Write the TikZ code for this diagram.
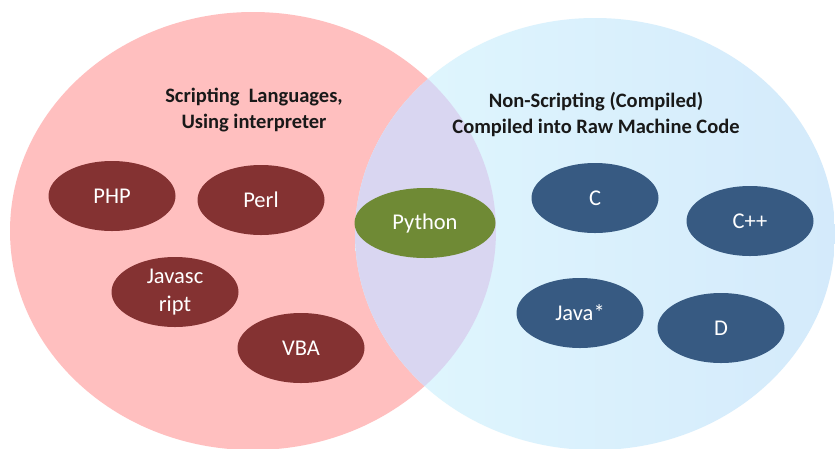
\documentclass[tikz,border=0pt]{standalone}
\usepackage{fontspec}
\setmainfont{Carlito}
\usetikzlibrary{shapes.geometric}
\definecolor{scriptpink}{HTML}{FFBFBF}
\definecolor{compblueL}{HTML}{E0F7FE}
\definecolor{compblueR}{HTML}{D4EAFB}
\definecolor{overlapviolet}{HTML}{D9D6F1}
\definecolor{lang red}{HTML}{843232}
\definecolor{lang blue}{HTML}{375A82}
\definecolor{lang green}{HTML}{6F8A35}
\tikzset{
  lang/.style={ellipse, inner sep=0pt, minimum width=127pt, minimum height=70pt,
    text=white, font=\fontsize{22.5}{28}\selectfont, align=center},
  scriptlang/.style={lang, fill=lang red},
  complang/.style={lang, fill=lang blue},
  bothlang/.style={lang, fill=lang green, minimum width=141pt, minimum height=70pt},
  heading/.style={font=\bfseries\fontsize{20.5}{26}\selectfont, align=center, text=black!90}
}
\begin{document}
\begin{tikzpicture}[x=1pt,y=-1pt]
  \useasboundingbox (0,0) rectangle (835,448);
  \fill[white] (0,0) rectangle (835,448);
  \begin{scope}
    \clip (0,0) rectangle (835,448);
    % the two sets
    \fill[scriptpink] (253,231) ellipse [x radius=243, y radius=219];
    \shade[left color=compblueL, right color=compblueR] (595,234) ellipse [x radius=240, y radius=216];
    % their intersection
    \begin{scope}
      \clip (253,231) ellipse [x radius=243, y radius=219];
      \fill[overlapviolet] (595,234) ellipse [x radius=240, y radius=216];
    \end{scope}
  \end{scope}

  % set titles
  \node[heading] (scripthead) at (254,110) {Scripting~~Languages,\\Using interpreter};
  \node[heading] (comphead) at (596,114) {Non-Scripting (Compiled)\\Compiled into Raw Machine Code};

  % scripting languages
  \node[scriptlang] (php) at (112,196) {PHP};
  \node[scriptlang] (perl) at (261,200) {Perl};
  \node[scriptlang] (js) at (175,292) {Javasc\\ript};
  \node[scriptlang] (vba) at (301,348) {VBA};

  % both
  \node[bothlang] (python) at (425,223) {Python};

  % compiled languages
  \node[complang] (c) at (595,198) {C};
  \node[complang] (cpp) at (750,221) {C++};
  \node[complang] (java) at (580,313) {Java*};
  \node[complang] (d) at (721,328) {D};
\end{tikzpicture}
\end{document}
